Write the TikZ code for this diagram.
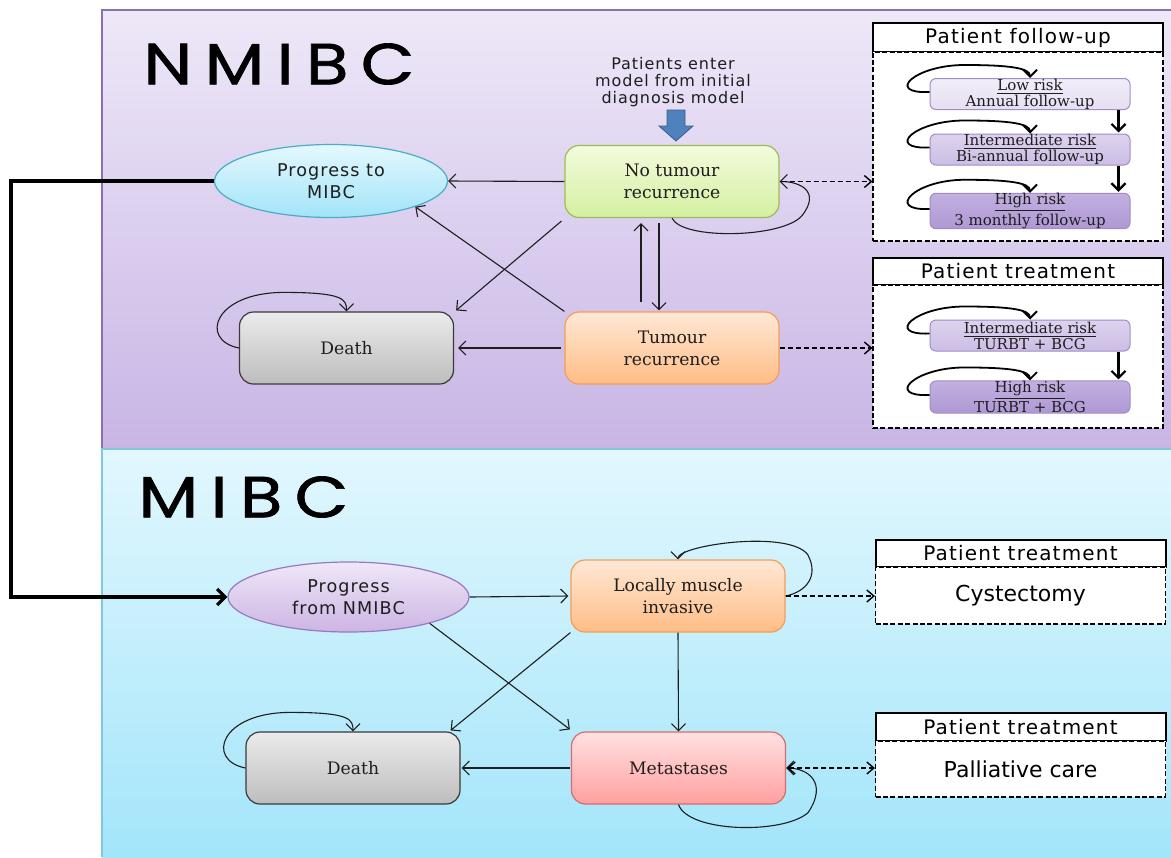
\documentclass[tikz,border=0pt]{standalone}
\usepackage{fontspec}
\setmainfont{DejaVu Serif}
\newfontfamily\hsans[LetterSpace=6]{DejaVu Sans}
\newfontfamily\psans{DejaVu Sans}
\newfontfamily\bigf[LetterSpace=21,FakeStretch=1.2,FakeBold=1.2]{Poppins}
\usetikzlibrary{arrows.meta,shapes.geometric,calc}
\definecolor{nmTop}{HTML}{EEE8F8}
\definecolor{nmBot}{HTML}{C8B5E5}
\definecolor{nmLine}{HTML}{8B6FB5}
\definecolor{mTop}{HTML}{E2F7FE}
\definecolor{mBot}{HTML}{A3E5FA}
\definecolor{mLine}{HTML}{7FC8DE}
\definecolor{grT}{HTML}{F3FBDD}\definecolor{grB}{HTML}{D4F0A0}\definecolor{grL}{HTML}{9BBB59}
\definecolor{orT}{HTML}{FFE8D6}\definecolor{orB}{HTML}{FFBD85}\definecolor{orL}{HTML}{F59D56}
\definecolor{gyT}{HTML}{EBEBEB}\definecolor{gyB}{HTML}{BDBDBD}\definecolor{gyL}{HTML}{3A3A3A}
\definecolor{pkT}{HTML}{FFE1E1}\definecolor{pkB}{HTML}{FF9F9F}\definecolor{pkL}{HTML}{D96B6B}
\definecolor{cyT}{HTML}{E4F8FE}\definecolor{cyB}{HTML}{A2E4F8}\definecolor{cyL}{HTML}{4BACC6}
\definecolor{lvT}{HTML}{EFE7F8}\definecolor{lvB}{HTML}{CCB5E3}\definecolor{lvL}{HTML}{9878C0}
\definecolor{r1T}{HTML}{F1EDF8}\definecolor{r1B}{HTML}{E6DFF2}
\definecolor{r2T}{HTML}{DDD3EE}\definecolor{r2B}{HTML}{CCBDE5}
\definecolor{r3T}{HTML}{C2B0E0}\definecolor{r3B}{HTML}{AE98D4}
\definecolor{rL}{HTML}{A08CC8}
\definecolor{blueA}{HTML}{4F81BD}\definecolor{blueL}{HTML}{385D8A}
\definecolor{ink}{HTML}{1E1E1E}
\tikzset{
  st/.style={draw, rounded corners=7pt, minimum width=107pt, minimum height=36pt,
    align=center, inner sep=0pt, line width=0.6pt, text=ink,
    font=\fontsize{8.6}{11}\selectfont},
  grn/.style={top color=grT, bottom color=grB, draw=grL},
  org/.style={top color=orT, bottom color=orB, draw=orL},
  gry/.style={top color=gyT, bottom color=gyB, draw=gyL},
  pnk/.style={top color=pkT, bottom color=pkB, draw=pkL},
  ell/.style={ellipse, draw, inner sep=0pt, align=center, line width=0.6pt, text=ink,
    font=\hsans\fontsize{8.8}{11}\selectfont},
  risk/.style={draw=rL, rounded corners=3pt, minimum width=100pt, minimum height=15.5pt,
    align=center, inner sep=0pt, line width=0.5pt, text=ink,
    font=\fontsize{7.5}{8}\selectfont},
  hdr/.style={draw, fill=white, line width=1pt, minimum width=145pt, inner sep=0pt,
    font=\hsans\fontsize{10}{12}\selectfont},
  bodybox/.style={draw, dashed, fill=white, line width=0.6pt, minimum width=145pt, inner sep=0pt,
    dash pattern=on 2.5pt off 1.2pt, font=\psans\fontsize{11}{13}\selectfont},
  ar/.style={-{Straight Barb[length=3.5pt,width=7pt]}, line width=0.55pt, draw=ink},
  tar/.style={-{Straight Barb[length=3.5pt,width=7pt]}, line width=1.1pt, draw=black},
  dar/.style={-{Straight Barb[length=3.5pt,width=6pt]}, line width=0.7pt, draw=black,
    dash pattern=on 2.5pt off 1.5pt},
  ttl/.style={anchor=west, inner sep=0pt, font=\bigf\fontsize{29}{30}\selectfont},
}
\begin{document}
\begin{tikzpicture}[x=0.5pt,y=-0.5pt]
\useasboundingbox (0,0) rectangle (1171,857);
\fill[white] (0,0) rectangle (1171,857);
% panels
\shade[top color=nmTop, bottom color=nmBot] (102,10) rectangle (1171,449);
\draw[nmLine, line width=0.7pt] (1171,10) -- (102,10) -- (102,449);
\shade[top color=mTop, bottom color=mBot] (102,449) rectangle (1171,857);
\draw[mLine, line width=0.8pt] (1171,449) -- (102,449) -- (102,857);
\node[ttl] (tn) at (143,64) {NMIBC};
\node[ttl] (tm) at (138,497) {MIBC};

% NMIBC states
\node[ell, top color=cyT, bottom color=cyB, draw=cyL, minimum width=116.5pt, minimum height=36.5pt] (pm) at (331,181) {Progress to\\MIBC};
\node[st, grn] (nt) at (672,181.5) {No tumour\\recurrence};
\node[st, gry] (d1) at (346.5,348) {Death};
\node[st, org] (tr) at (672,348) {Tumour\\recurrence};
\node[align=center, text=ink, font=\hsans\fontsize{8}{8.3}\selectfont] (pe) at (673,82) {Patients enter\\model from initial\\diagnosis model};
\filldraw[fill=blueA, draw=blueL, line width=0.4pt]
  (667,110) -- (685,110) -- (685,126) -- (693,126) -- (676,141) -- (659,126) -- (667,126) -- cycle;

\draw[ar] (nt.west) -- (pm.east);
\draw[ar] (tr.north west) -- (pm.-17);
\draw[ar] ($(nt.south west)+(-3,3)$) -- ($(d1.north east)+(2,-1)$);
\draw[ar] ($(tr.north)+(-31,-9)$) -- ($(nt.south)+(-31,5)$);
\draw[ar] ($(nt.south)+(-13,5)$) -- ($(tr.north)+(-13,-1)$);
\draw[ar] ($(tr.west)+(-3,0)$) -- ($(d1.east)+(4,0)$);
\draw[ar] (d1.west) .. controls +(-40,-8) and +(-70,0) .. ($(d1.north west)+(45,-19)$)
   .. controls +(60,0) and +(0,-12) .. (d1.north);
\draw[ar] (nt.south) .. controls +(10,22) and +(-20,22) .. ($(nt.south east)+(22,-2)$)
   .. controls +(20,-25) and +(20,0) .. (nt.east);

% patient follow-up
\node[hdr, minimum height=14.5pt] (fuh) at (1018,37.5) {Patient follow-up};
\node[bodybox, minimum height=94.5pt] (fub) at (1018,146.5) {};
\node[risk, top color=r1T, bottom color=r1B] (lr) at (1030,94) {\underline{Low risk}\\Annual follow-up};
\node[risk, top color=r2T, bottom color=r2B] (ir) at (1030,149.5) {\underline{Intermediate risk}\\Bi-annual follow-up};
\node[risk, top color=r3T, bottom color=r3B] (hr) at (1030,211) {\underline{High risk}\\3 monthly follow-up};
\foreach \n in {lr,ir,hr}{
  \draw[tar, line width=0.9pt] ($(\n.west)+(0,-2)$) .. controls +(-45,2) and +(-50,0) .. ($(\n.north west)+(35,-13)$)
     .. controls +(45,0) and +(0,-10) .. (\n.north);
}
\draw[tar] ($(lr.south east)+(-12,0)$) -- ($(ir.north east)+(-12,-1)$);
\draw[tar] ($(ir.south east)+(-12,0)$) -- ($(hr.north east)+(-12,-1)$);
\draw[dar] ($(nt.east)+(2,0)$) -- (nt.east -| fub.west);

% patient treatment NMIBC
\node[hdr, minimum height=13.5pt] (tth) at (1018,271.5) {Patient treatment};
\node[bodybox, minimum height=71.5pt] (ttb) at (1018,356.5) {};
\node[risk, top color=r2T, bottom color=r2B] (it) at (1030,335.5) {\underline{Intermediate risk}\\TURBT + BCG};
\node[risk, top color=r3T, bottom color=r3B] (ht) at (1030,397) {\underline{High risk}\\TURBT + BCG};
\foreach \n in {it,ht}{
  \draw[tar, line width=0.9pt] ($(\n.west)+(0,-2)$) .. controls +(-45,2) and +(-50,0) .. ($(\n.north west)+(35,-13)$)
     .. controls +(45,0) and +(0,-10) .. (\n.north);
}
\draw[tar] ($(it.south east)+(-12,0)$) -- ($(ht.north east)+(-12,-1)$);
\draw[dar] (tr.east) -- (tr.east -| ttb.west);

% elbow connector
\node[ell, top color=lvT, bottom color=lvB, draw=lvL, minimum width=120.5pt, minimum height=35pt] (pf) at (348.5,597) {Progress\\from NMIBC};
\draw[line width=1.6pt, -{Straight Barb[length=4pt,width=8pt]}] (pm.west) -- ++(-203,0) |- (pf.west);

% MIBC states
\node[st, org] (lm) at (678,596) {Locally muscle\\invasive};
\node[st, gry] (d2) at (353,768) {Death};
\node[st, pnk] (me) at (678.5,768) {Metastases};
\draw[ar] (pf.east) -- ($(lm.west)+(-2,0)$);
\draw[ar] (pf.-18) -- ($(me.north west)+(-1,-2)$);
\draw[ar] (lm.south west) -- ($(d2.north east)+(-10,-1)$);
\draw[ar] (lm.south) -- (me.north);
\draw[ar] ($(me.west)+(-1,0)$) -- ($(d2.east)+(1,0)$);
\draw[ar] (d2.west) .. controls +(-40,-8) and +(-70,0) .. ($(d2.north west)+(45,-19)$)
   .. controls +(60,0) and +(0,-12) .. (d2.north);
\draw[ar] (lm.east) .. controls +(20,-4) and +(12,22) .. ($(lm.north east)+(22,-5)$)
   .. controls +(-20,-25) and +(0,-14) .. (lm.north);
\draw[ar] (me.south) .. controls +(10,28) and +(-25,22) .. ($(me.south east)+(22,8)$)
   .. controls +(20,-30) and +(22,0) .. (me.east);

% MIBC boxes
\node[hdr, minimum height=13.5pt] (ch) at (1020.5,553.5) {Patient treatment};
\node[bodybox, minimum height=28.5pt] (cb) at (1020.5,595.5) {Cystectomy};
\node[hdr, minimum height=14pt] (ph) at (1020.5,727) {Patient treatment};
\node[bodybox, minimum height=28pt] (pb) at (1020.5,769) {Palliative care};
\draw[dar] (lm.east) -- (lm.east -| cb.west);
\draw[dar, {Straight Barb[length=3.5pt,width=6pt]}-{Straight Barb[length=3.5pt,width=6pt]}] ($(me.east)+(1,0)$) -- (me.east -| pb.west);
\end{tikzpicture}
\end{document}
